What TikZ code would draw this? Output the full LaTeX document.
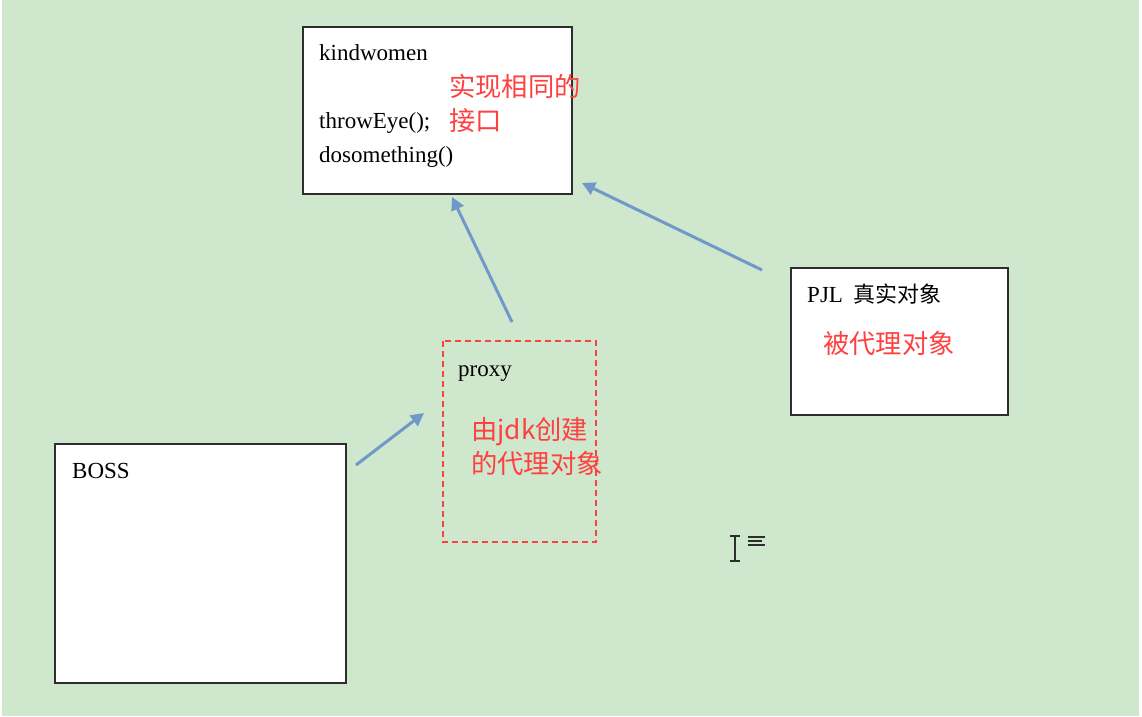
\documentclass[tikz,border=0pt]{standalone}
\usepackage{fontspec}
\setmainfont{Liberation Serif}
\newfontfamily\cjk{Noto Sans CJK SC}
\usetikzlibrary{arrows.meta}
\definecolor{bggreen}{RGB}{207,231,204}
\definecolor{notered}{RGB}{255,64,64}
\definecolor{arrowblue}{RGB}{112,152,200}
\definecolor{frame}{RGB}{45,45,45}
\begin{document}
\begin{tikzpicture}[x=1pt,y=-1pt,
  box/.style={draw=frame,line width=1.6pt,fill=white},
  proxybox/.style={draw=notered,line width=1.4pt,dash pattern=on 6pt off 4pt},
  label/.style={anchor=base west,inner sep=0pt,font=\fontsize{23}{34}\selectfont},
  note/.style={anchor=north west,inner sep=0pt,align=left,text=notered,
    font=\cjk\fontsize{26.3}{34}\selectfont},
  link/.style={draw=arrowblue,line width=3pt,
    -{Triangle[length=13pt,width=13pt]}}]
% page and background
\fill[white] (0,0) rectangle (1142,716);
\fill[bggreen] (2,0) rectangle (1139,716);
\useasboundingbox (0,0) rectangle (1142,716);

% interface box
\path[box] (303,27) rectangle (572,194);
\node[label] (kw) at (319,60) {kindwomen};
\node[label] (te) at (319,128) {throwEye();};
\node[label] (ds) at (319,162) {dosomething()};
\node[note] (same) at (449,74) {实现相同的\\接口};

% real subject
\path[box] (791,268) rectangle (1008,415);
\node[label] (pjl) at (807,302) {PJL {\cjk\fontsize{22}{30}\selectfont\ 真实对象}};
\node[note] (real) at (823,331) {被代理对象};

% generated proxy
\path[proxybox] (443,341) rectangle (596,542);
\node[label] (px) at (458,376) {proxy};
\node[note] (made) at (471,417) {由jdk创建\\的代理对象};

% client
\path[box] (55,444) rectangle (346,683);
\node[label] (boss) at (72,478) {BOSS};

% connectors
\coordinate (pxtop) at (512,322);
\coordinate (kwbot) at (452,197);
\coordinate (pjlleft) at (762,270);
\coordinate (kwright) at (582,183);
\coordinate (bossright) at (356,465);
\coordinate (pxleft) at (424,413);
\draw[link] (pxtop) -- (kwbot);
\draw[link] (pjlleft) -- (kwright);
\draw[link] (bossright) -- (pxleft);

% text cursor
\draw[frame,line width=1.3pt] (735,536) -- (735,561)
  (730,536) -- (740,536) (730,561) -- (740,561);
\draw[frame,line width=1.2pt] (748,537) -- (765,537) (748,541) -- (762,541) (748,545) -- (765,545);
\end{tikzpicture}
\end{document}
